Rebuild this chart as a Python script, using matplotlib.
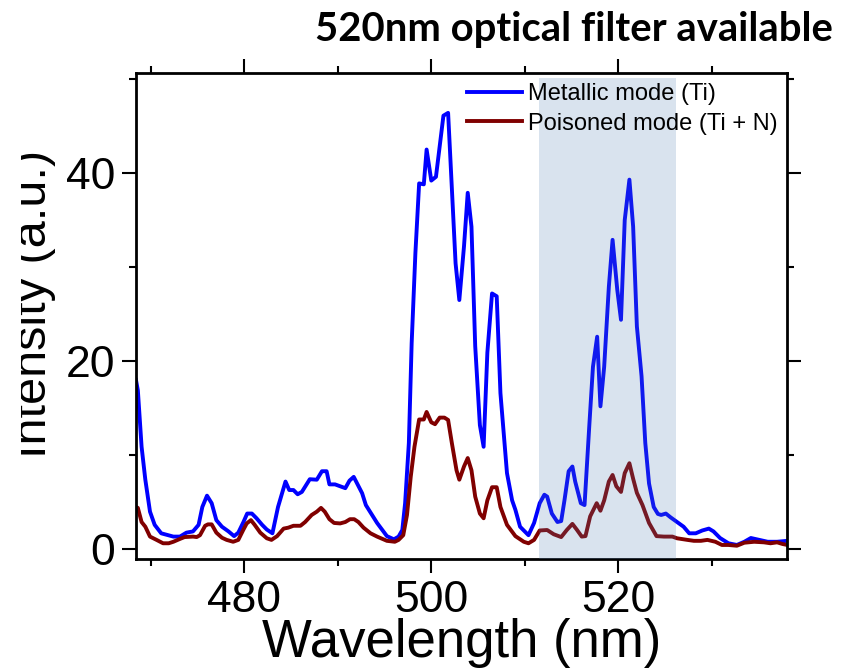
import numpy as np
import matplotlib
matplotlib.use("Agg")
import matplotlib.pyplot as plt
from matplotlib.transforms import Bbox, TransformedBbox

# spectra (wavelength in nm, intensity in a.u.)
metal_wl = [468.4, 468.6, 469.0, 469.4, 469.9, 470.4, 471.1, 472.4, 473.1, 473.8,
            474.5, 475.1, 475.5, 476.0, 476.5, 477.0, 477.6, 478.3, 478.9, 479.35,
            479.9, 480.3, 480.8, 481.3, 481.9, 482.4, 483.0, 483.6, 484.4, 484.8,
            485.25, 485.7, 486.15, 487.0, 487.75, 488.3, 488.8, 489.1, 489.7, 490.8,
            491.25, 491.7, 492.6, 493.0, 494.2, 495.25, 496.0, 496.5, 496.9, 497.2,
            497.6, 497.9, 498.3, 498.7, 499.2, 499.5, 500.0, 500.5, 501.3, 501.8,
            502.6, 503.0, 503.5, 503.9, 504.3, 504.7, 505.2, 505.6, 506.0, 506.5,
            507.0, 507.4, 508.1, 508.65, 509.0, 509.5, 510.4, 511.0, 511.6, 512.1,
            512.4, 512.9, 513.5, 513.9, 514.25, 514.7, 515.1, 515.4, 516.0, 516.4,
            516.9, 517.3, 517.75, 518.1, 518.5, 519.0, 519.4, 519.9, 520.3, 520.7,
            521.2, 521.6, 522.0, 522.5, 522.9, 523.3, 523.8, 524.25, 524.6, 525.1,
            525.6, 526.3, 527.0, 527.6, 528.3, 529.0, 529.7, 530.2, 530.9, 531.8,
            532.7, 533.5, 534.2, 535.1, 536.0, 537.0, 538.1]
metal_int = [18.0, 16.9, 10.9, 7.4, 4.0, 2.6, 1.7, 1.35, 1.35, 1.77,
             1.9, 2.6, 4.5, 5.7, 4.9, 3.1, 2.4, 1.9, 1.4, 1.77,
             2.9, 3.8, 3.8, 3.3, 2.6, 2.1, 1.7, 4.5, 7.2, 6.3,
             6.3, 5.85, 6.1, 7.45, 7.4, 8.3, 8.3, 6.9, 6.9, 6.5,
             7.3, 7.7, 5.96, 4.7, 2.8, 1.4, 1.06, 1.35, 2.05, 4.9,
             11.3, 21.9, 31.5, 38.9, 38.8, 42.5, 39.2, 39.6, 46.1, 46.4,
             30.4, 26.5, 32.2, 37.9, 34.3, 21.6, 13.2, 10.9, 20.9, 27.2,
             26.9, 16.6, 8.1, 5.2, 4.2, 2.4, 1.5, 2.8, 4.9, 5.8,
             5.6, 3.8, 2.9, 3.0, 5.2, 8.3, 8.8, 7.2, 4.9, 4.7,
             13.0, 19.4, 22.6, 15.2, 19.4, 27.9, 32.9, 27.6, 24.4, 35.0,
             39.3, 34.3, 23.7, 18.4, 11.3, 7.0, 4.5, 3.76, 3.65, 3.8,
             3.4, 2.9, 2.4, 1.7, 1.7, 2.0, 2.2, 1.9, 1.2, 0.64,
             0.46, 0.8, 1.2, 1.0, 0.8, 0.8, 0.9]

poison_wl = [468.4, 468.6, 469.0, 469.4, 469.9, 470.6, 471.3, 471.9, 472.4, 473.1,
             473.6, 474.5, 474.9, 475.25, 475.8, 476.1, 476.5, 477.0, 477.6, 478.1,
             478.8, 479.35, 479.9, 480.25, 480.7, 481.1, 481.7, 482.4, 482.9, 483.5,
             484.2, 484.7, 485.25, 486.0, 486.5, 487.2, 487.75, 488.2, 488.6, 489.1,
             489.6, 490.25, 490.8, 491.3, 491.75, 492.2, 492.75, 493.5, 494.2, 495.25,
             496.1, 496.5, 497.0, 497.4, 497.8, 498.2, 498.7, 499.2, 499.5, 500.0,
             500.4, 500.9, 501.4, 501.8, 502.2, 502.7, 503.0, 503.5, 503.9, 504.3,
             504.7, 505.2, 505.6, 506.0, 506.5, 507.0, 507.4, 508.1, 509.0, 509.9,
             510.4, 511.0, 511.6, 512.4, 513.1, 513.9, 514.5, 515.1, 515.6, 516.1,
             516.5, 517.0, 517.7, 518.1, 518.5, 519.0, 519.4, 519.8, 520.3, 520.7,
             521.2, 521.6, 522.0, 522.6, 523.3, 524.1, 524.9, 525.8, 526.3, 527.4,
             528.1, 528.85, 529.55, 530.4, 531.1, 531.8, 532.7, 533.5, 534.55, 535.6,
             536.3, 537.0, 537.6, 538.1]
poison_int = [4.5, 4.4, 2.9, 2.4, 1.35, 1.0, 0.64, 0.64, 0.8, 1.1,
              1.3, 1.35, 1.3, 1.5, 2.5, 2.65, 2.65, 1.77, 1.23, 1.0,
              0.8, 1.0, 2.1, 2.75, 3.1, 2.6, 1.77, 1.17, 1.0, 1.4,
              2.2, 2.3, 2.5, 2.5, 2.9, 3.65, 4.0, 4.4, 4.0, 3.2,
              2.8, 2.75, 2.9, 3.2, 3.2, 2.9, 2.3, 1.7, 1.35, 0.9,
              0.8, 1.0, 1.5, 3.65, 7.7, 10.9, 13.8, 13.8, 14.6, 13.5,
              13.3, 14.0, 14.0, 13.75, 11.3, 8.4, 7.4, 8.8, 9.7, 8.4,
              5.6, 3.8, 3.3, 5.2, 6.6, 6.6, 4.5, 2.6, 1.4, 0.8,
              0.64, 1.0, 2.0, 2.05, 1.6, 1.3, 2.05, 2.7, 2.05, 1.35,
              1.4, 3.5, 4.9, 4.1, 5.2, 7.2, 7.9, 6.7, 6.1, 8.1,
              9.15, 7.5, 6.0, 4.7, 2.8, 1.4, 1.35, 1.35, 1.17, 1.0,
              0.9, 0.9, 1.0, 0.8, 0.46, 0.46, 0.38, 0.7, 0.8, 0.74,
              0.64, 0.74, 0.56, 0.46]

filter_band = (511.5, 526.2)   # shaded 520 nm filter window

narrow = ["Liberation Sans Narrow", "Liberation Sans", "DejaVu Sans"]

fig = plt.figure(figsize=(8.52, 6.70), dpi=100)
ax = fig.add_axes([0.1596, 0.1657, 0.7645, 0.7258])

ax.plot(metal_wl, metal_int, color="#0000ff", lw=2.8, label="Metallic mode (Ti)")
ax.plot(poison_wl, poison_int, color="#800000", lw=2.8, label="Poisoned mode (Ti + N)")
ax.axvspan(filter_band[0], filter_band[1], ymin=0, ymax=0.989,
           color="#4f7cb2", alpha=0.21, lw=0, zorder=3)

ax.set_xlim(468.4, 538.1)
ax.set_ylim(-1.03, 50.67)
ax.set_xticks([480, 500, 520])
ax.set_xticks([470, 490, 510, 530], minor=True)
ax.set_yticks([0, 20, 40])
ax.set_yticks([10, 30, 50], minor=True)
ax.tick_params(which="both", direction="out", top=True, right=True, width=1.5,
               labelsize=32, pad=5)
ax.tick_params(which="major", length=10)
ax.tick_params(which="minor", length=5)
for lab in ax.get_xticklabels() + ax.get_yticklabels():
    lab.set_family(narrow)
for sp in ax.spines.values():
    sp.set_linewidth(2)

ax.set_xlabel("Wavelength (nm)", fontsize=38, family=narrow, labelpad=-2)

ylab = fig.text(0.054, 0.546, "Intensity (a.u.)", rotation=90, rotation_mode="anchor",
                ha="center", va="baseline", fontsize=35, family=narrow)
ylab.set_clip_box(TransformedBbox(Bbox([[21 / 852, 0], [1, 1]]), fig.transFigure))
ylab.set_clip_on(True)

ax.legend(loc="upper left", bbox_to_anchor=(0.508, 0.979), frameon=False,
          prop={"family": ["Liberation Sans", "DejaVu Sans"], "size": 17},
          handlelength=2.33, handletextpad=0.25, labelspacing=0.33,
          borderpad=0, borderaxespad=0)

fig.text(0.977, 0.956, "520nm optical filter available", ha="right", va="center",
         fontsize=28.8, fontweight="bold", family=["Lato", "DejaVu Sans"])

fig.savefig("out.png", dpi=100)
